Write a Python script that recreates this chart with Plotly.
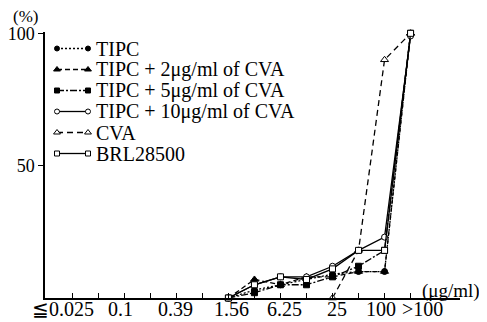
import plotly.graph_objects as go

# x positions (doubling dilution steps)
categories = ["≦0.025", "0.05", "0.1", "0.2", "0.39", "0.78", "1.56",
              "3.13", "6.25", "12.5", "25", "50", "100", ">100"]
tick_labels = ["≦0.025", "0.1", "0.39", "1.56", "6.25", "25", "100", ">100"]

conc = ["1.56", "3.13", "6.25", "12.5", "25", "50", "100", ">100"]
tipc = [0, 3, 5, 7, 9, 10, 10, 100]
tipc_cva2 = [0, 7, 5, 8, 8, 10, 10, 100]
tipc_cva5 = [0, 2, 5, 5, 8, 12, 18, 100]
tipc_cva10 = [0, 5, 8, 8, 12, 18, 23, 99]
cva_conc = ["25", "50", "100", ">100"]
cva = [0, 18, 90, 100]
brl = [0, 5, 8, 7, 11, 18, 18, 100]

series_names = ["TIPC", "TIPC + 2μg/ml of CVA", "TIPC + 5μg/ml of CVA",
                "TIPC + 10μg/ml of CVA", "CVA", "BRL28500"]

idx = {c: i for i, c in enumerate(categories)}

styles = [
    dict(dash="2px,2px", symbol="circle", fill="black", size=6),
    dict(dash="5px,3px", symbol="triangle-up", fill="black", size=7),
    dict(dash="7px,2px,2px,2px", symbol="square", fill="black", size=6),
    dict(dash="solid", symbol="circle", fill="white", size=6),
    dict(dash="6px,4px", symbol="triangle-up", fill="white", size=7),
    dict(dash="solid", symbol="square", fill="white", size=6),
]
# horizontal nudges (px) of the x tick labels, as typeset in the original
label_shift = [-9, -4, -1, 3, 4, 4, -4, 12]

data = [(conc, tipc), (conc, tipc_cva2), (conc, tipc_cva5),
        (conc, tipc_cva10), (cva_conc, cva), (conc, brl)]

font_family = "Liberation Serif, Times New Roman, serif"

# layout constants (pixels); the page body adds an 8px offset
OFF = 8
W, H = 487 - OFF, 322 - OFF
ML, MR, MT, MB = 45 - OFF, 27, 32 - OFF, 24
PW, PH = W - ML - MR, H - MT - MB
# legend layout inside the plot area (pixel offsets from plot top-left)
LEG_X0, LEG_X1, LEG_TEXT_X, LEG_Y0, LEG_DY = 12, 43, 49, 16.5, 21

fig = go.Figure()
for name, (xs, ys), st in zip(series_names, data, styles):
    fig.add_trace(go.Scatter(
        x=[idx[c] for c in xs], y=ys, name=name, mode="lines+markers",
        line=dict(color="black", width=1.3, dash=st["dash"]),
        marker=dict(symbol=st["symbol"], size=st["size"], color=st["fill"],
                    line=dict(color="black", width=1)),
        cliponaxis=False, showlegend=False,
    ))

# legend keys drawn on an overlay axis measured in plot pixels
for k, (name, st) in enumerate(zip(series_names, styles)):
    ry = LEG_Y0 + k * LEG_DY
    fig.add_trace(go.Scatter(
        x=[LEG_X0, LEG_X1], y=[ry, ry], xaxis="x2", yaxis="y2",
        mode="lines+markers", showlegend=False, hoverinfo="skip",
        line=dict(color="black", width=1.3, dash=st["dash"]),
        marker=dict(symbol=st["symbol"], size=st["size"] - 1, color=st["fill"],
                    line=dict(color="black", width=1)),
        cliponaxis=False,
    ))
    fig.add_annotation(text=name, xref="x2", yref="y2", x=LEG_TEXT_X, y=ry,
                       xanchor="left", yanchor="middle", showarrow=False,
                       font=dict(size=20, family=font_family))

# x tick labels as annotations at their category positions
for lab, dx in zip(tick_labels, label_shift):
    fig.add_annotation(text=lab, xref="x", yref="paper", x=idx[lab], y=0,
                       xanchor="center", yanchor="middle", yshift=-11,
                       xshift=dx, showarrow=False,
                       font=dict(size=20, family=font_family))

fig.update_layout(
    width=W, height=H,
    margin=dict(l=ML, r=MR, t=MT, b=MB, autoexpand=False),
    paper_bgcolor="white", plot_bgcolor="white",
    font=dict(family=font_family, color="black", size=18),
    showlegend=False,
    xaxis=dict(range=[-1.05, 14.9], showgrid=False, zeroline=False,
               showline=True, linecolor="black", linewidth=1.5,
               tickmode="array", tickvals=list(range(len(categories))),
               showticklabels=False, ticks="inside", ticklen=5,
               tickcolor="black", tickwidth=1, automargin=False),
    yaxis=dict(range=[0, 100.5], showgrid=False, zeroline=False,
               showline=True, linecolor="black", linewidth=1.5,
               tickmode="array", tickvals=[50, 100], ticktext=["50", "100"],
               ticks="outside", ticklen=5, tickcolor="black", tickwidth=1,
               automargin=False, tickfont=dict(size=18, family=font_family)),
    xaxis2=dict(overlaying="x", anchor="y2", range=[0, PW], visible=False,
                fixedrange=True),
    yaxis2=dict(overlaying="y", anchor="x2", range=[PH, 0], visible=False,
                fixedrange=True),
)

fig.add_annotation(text="(%)", xref="paper", yref="paper", x=-34 / PW,
                   y=1 + 15 / PH, xanchor="left", yanchor="middle",
                   showarrow=False, font=dict(size=17, family=font_family))
fig.add_annotation(text="(μg/ml)", xref="paper", yref="paper", x=375 / PW,
                   y=7 / PH, xanchor="left", yanchor="middle", showarrow=False,
                   font=dict(size=19, family=font_family))

fig.write_html("out.html")
